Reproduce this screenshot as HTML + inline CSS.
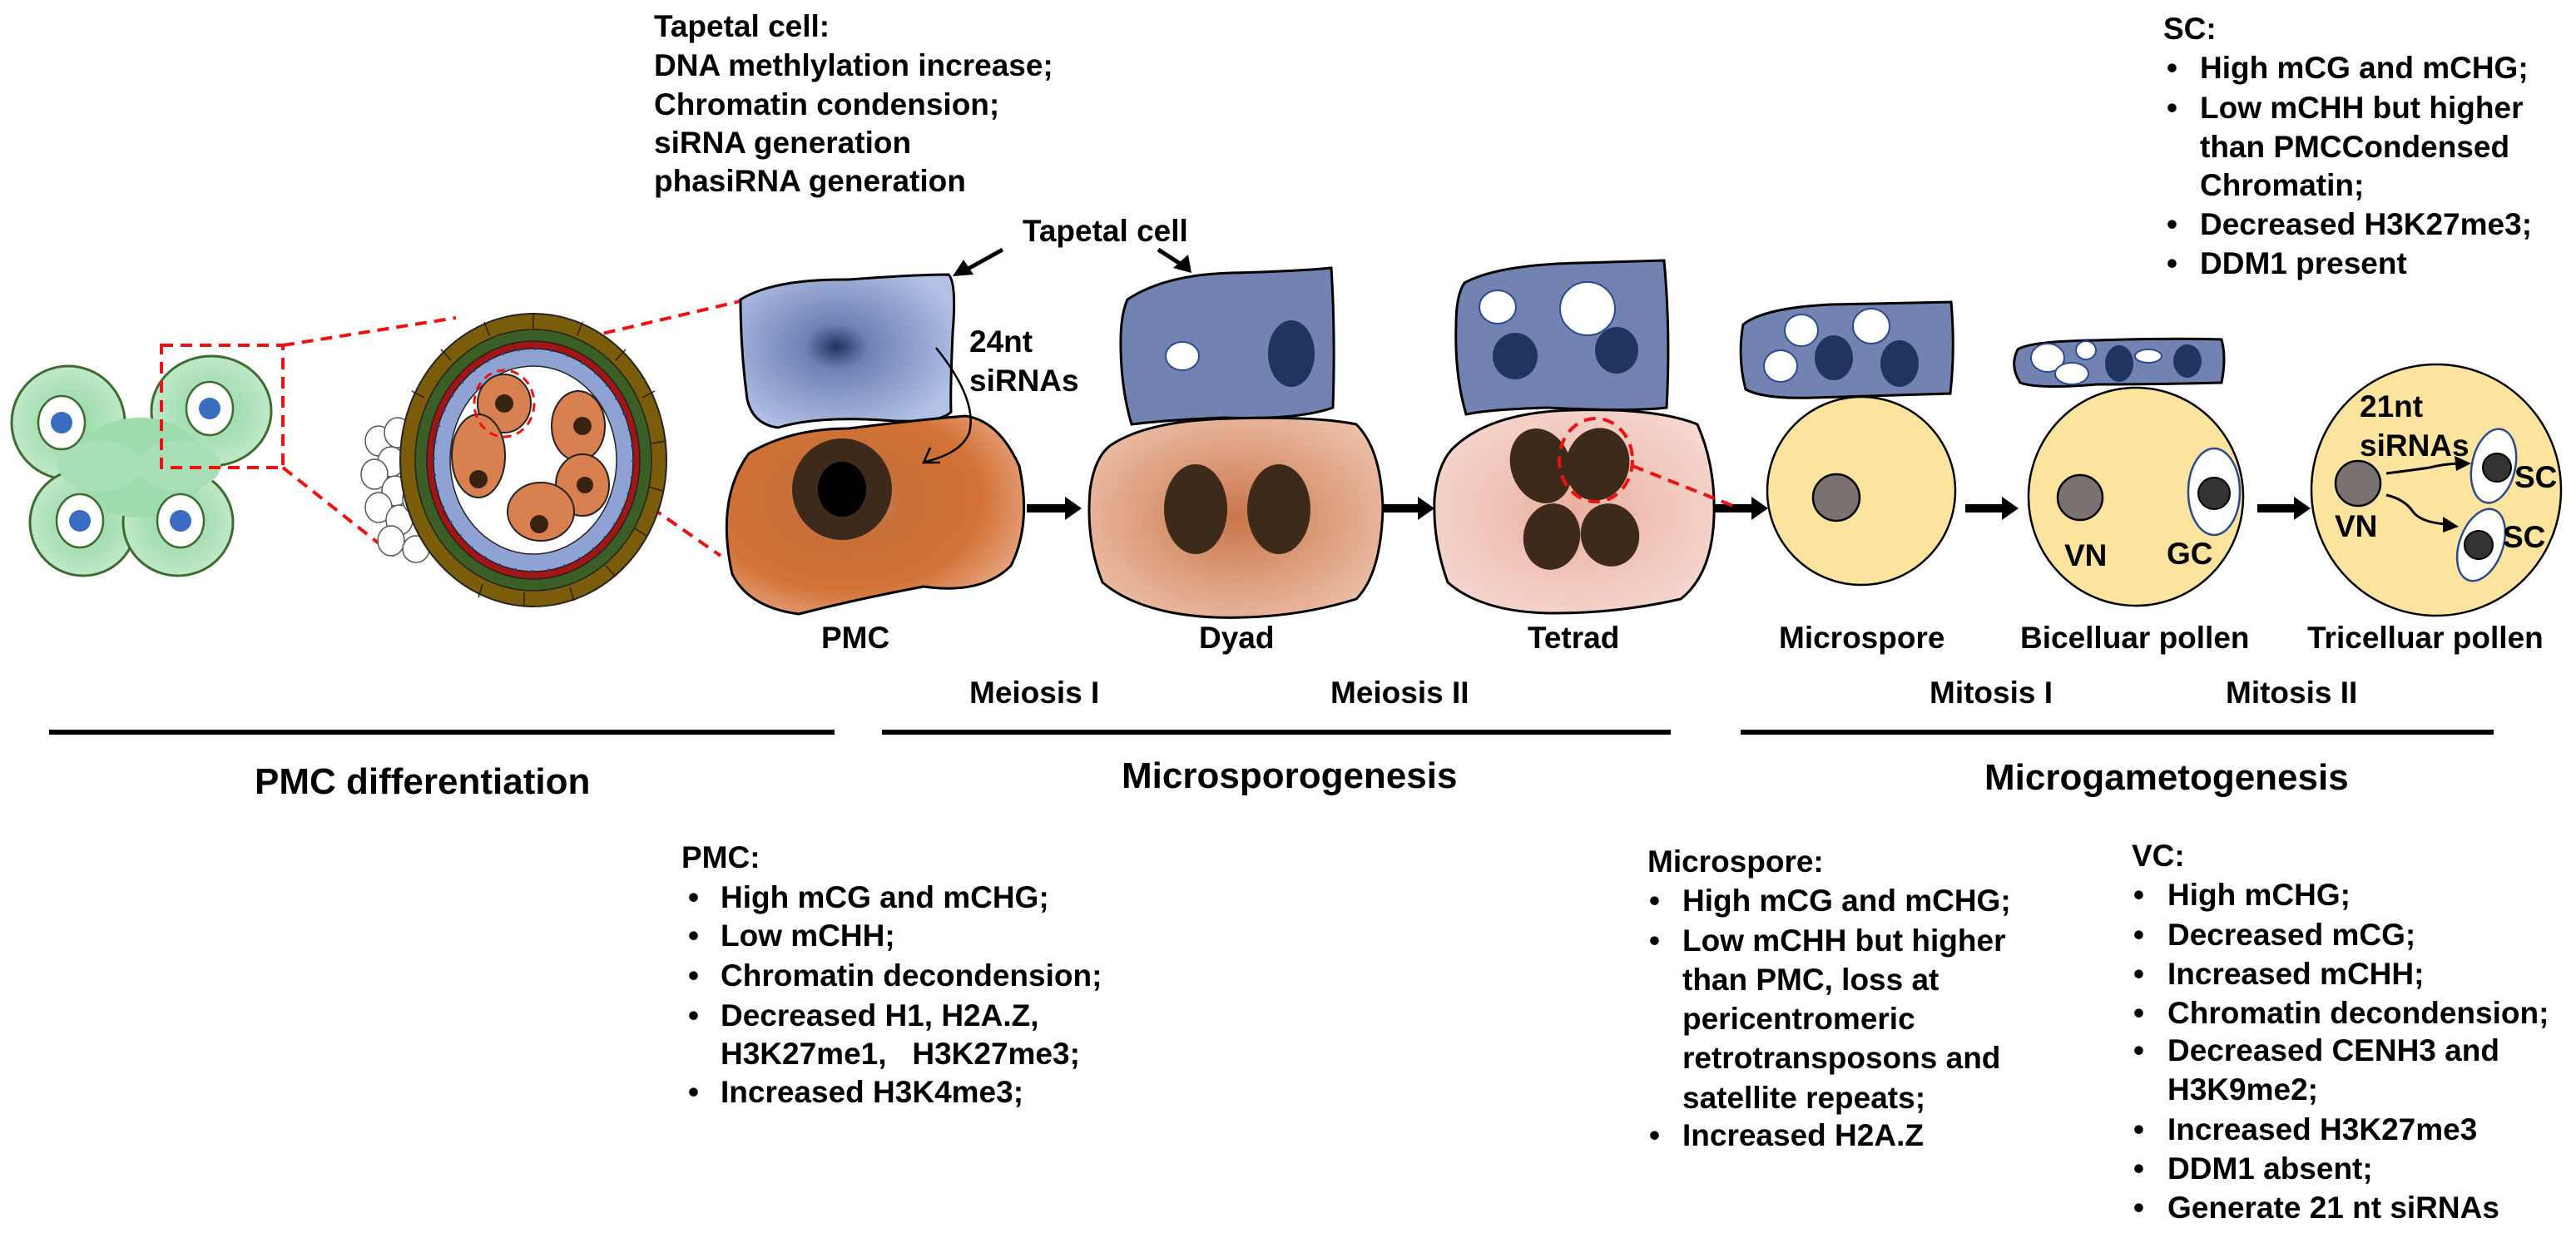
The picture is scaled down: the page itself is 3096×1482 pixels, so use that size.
<!DOCTYPE html>
<html><head><meta charset="utf-8"><style>
html,body{margin:0;padding:0;background:#fff;}
svg{display:block;}
text{font-family:"Liberation Sans",Arial,sans-serif;font-weight:bold;fill:#000;}
</style></head><body>
<svg width="3096" height="1482" viewBox="0 0 3096 1482" xmlns="http://www.w3.org/2000/svg">
<defs>
<radialGradient id="gclover" cx="0.5" cy="0.5" r="0.6"><stop offset="0" stop-color="#8fd6a0"/><stop offset="1" stop-color="#c8ecd0"/></radialGradient>
<radialGradient id="gtap1" cx="0.45" cy="0.47" r="0.6"><stop offset="0" stop-color="#1e3460"/><stop offset="0.25" stop-color="#6f82b6"/><stop offset="1" stop-color="#b3c1e6"/></radialGradient>
<radialGradient id="gpmc" cx="0.4" cy="0.42" r="0.65"><stop offset="0" stop-color="#b89080"/><stop offset="0.3" stop-color="#c87038"/><stop offset="0.7" stop-color="#d27236"/><stop offset="1" stop-color="#e6a27e"/></radialGradient>
<radialGradient id="gdyad" cx="0.5" cy="0.5" r="0.6"><stop offset="0" stop-color="#c8764a"/><stop offset="0.5" stop-color="#dc9c7a"/><stop offset="1" stop-color="#ecbfa8"/></radialGradient>
<radialGradient id="gtet" cx="0.5" cy="0.5" r="0.6"><stop offset="0" stop-color="#eab0a0"/><stop offset="1" stop-color="#f6d8d0"/></radialGradient>
</defs>

<text font-size="37"><tspan x="786" y="44">Tapetal cell:</tspan><tspan x="786" y="91">DNA methlylation increase;</tspan><tspan x="786" y="138">Chromatin condension;</tspan><tspan x="786" y="184">siRNA generation</tspan><tspan x="786" y="230">phasiRNA generation</tspan></text>

<text font-size="37"><tspan x="2600" y="47">SC:</tspan></text>
<g font-size="37">
<text x="2604" y="94">•</text><text x="2644" y="94">High mCG and mCHG;</text>
<text x="2604" y="142">•</text><text x="2644" y="142">Low mCHH but higher</text>
<text x="2644" y="189">than PMCCondensed</text>
<text x="2644" y="235">Chromatin;</text>
<text x="2604" y="282">•</text><text x="2644" y="282">Decreased H3K27me3;</text>
<text x="2604" y="329">•</text><text x="2644" y="329">DDM1 present</text>
</g>

<g stroke="#3f6a30" stroke-width="3" fill="url(#gclover)">
<ellipse cx="82" cy="508" rx="68" ry="68"/>
<ellipse cx="254" cy="494" rx="72" ry="66"/>
<ellipse cx="100" cy="628" rx="64" ry="64"/>
<ellipse cx="214" cy="628" rx="66" ry="64"/>
</g>
<ellipse cx="168" cy="562" rx="80" ry="60" fill="#9edcae"/>
<ellipse cx="120" cy="560" rx="50" ry="30" fill="#a8dfb6"/>
<ellipse cx="215" cy="560" rx="50" ry="30" fill="#a8dfb6"/>
<g stroke="#3f6a30" stroke-width="2.5" fill="#fff">
<ellipse cx="74" cy="508" rx="28" ry="32"/><ellipse cx="252" cy="491" rx="28" ry="32"/>
<ellipse cx="96" cy="626" rx="28" ry="32"/><ellipse cx="217" cy="626" rx="28" ry="32"/>
</g>
<g fill="#3a6cc0"><circle cx="74" cy="508" r="13"/><circle cx="252" cy="491" r="13"/><circle cx="96" cy="626" r="13"/><circle cx="217" cy="626" r="13"/></g>

<g stroke="#ee1111" stroke-width="4" stroke-dasharray="14 9" fill="none">
<rect x="194" y="415" width="146" height="147"/>
<line x1="340" y1="415" x2="548" y2="382"/>
<line x1="340" y1="562" x2="474" y2="668"/>
<line x1="681" y1="411" x2="890" y2="362"/>
<line x1="632" y1="505" x2="866" y2="668"/>
</g>

<g>
<g stroke="#555" stroke-width="1.5" fill="#fff">
<ellipse cx="455" cy="530" rx="16" ry="18"/><ellipse cx="478" cy="520" rx="16" ry="18"/><ellipse cx="470" cy="555" rx="16" ry="18"/><ellipse cx="450" cy="570" rx="16" ry="18"/>
<ellipse cx="475" cy="590" rx="16" ry="18"/><ellipse cx="455" cy="610" rx="16" ry="18"/><ellipse cx="480" cy="625" rx="16" ry="18"/><ellipse cx="470" cy="650" rx="16" ry="18"/><ellipse cx="500" cy="660" rx="16" ry="16"/><ellipse cx="500" cy="540" rx="16" ry="18"/><ellipse cx="500" cy="600" rx="16" ry="18"/>
</g>
<ellipse cx="641" cy="553" rx="160" ry="176" fill="#7a5c0a" stroke="#222" stroke-width="2"/>
<g stroke="#2a2000" stroke-width="1.5">
<line x1="641" y1="377" x2="641" y2="395"/><line x1="700" y1="387" x2="694" y2="403"/><line x1="752" y1="420" x2="740" y2="433"/><line x1="787" y1="470" x2="772" y2="478"/><line x1="800" y1="530" x2="783" y2="533"/><line x1="796" y1="590" x2="779" y2="585"/><line x1="778" y1="645" x2="763" y2="635"/><line x1="740" y1="693" x2="728" y2="680"/><line x1="690" y1="722" x2="685" y2="706"/><line x1="630" y1="729" x2="630" y2="712"/><line x1="575" y1="718" x2="580" y2="702"/><line x1="582" y1="387" x2="588" y2="403"/><line x1="530" y1="420" x2="542" y2="433"/><line x1="495" y1="470" x2="510" y2="478"/>
</g>
<ellipse cx="641" cy="553" rx="142" ry="157" fill="#3b5e25" stroke="#222" stroke-width="1.5"/>
<ellipse cx="641" cy="553" rx="128" ry="143" fill="#a31414" stroke="#222" stroke-width="1.5"/>
<ellipse cx="641" cy="553" rx="120" ry="134" fill="#8fa2d4" stroke="#222" stroke-width="1.5"/>
<ellipse cx="641" cy="553" rx="120" ry="134" fill="none" stroke="#2a4080" stroke-width="4" stroke-dasharray="2 18"/>
<ellipse cx="641" cy="553" rx="100" ry="113" fill="#fff" stroke="#222" stroke-width="1.5"/>
<g fill="#d98050" stroke="#222" stroke-width="2">
<ellipse cx="606" cy="485" rx="32" ry="35"/><ellipse cx="695" cy="512" rx="32" ry="42"/><ellipse cx="575" cy="548" rx="32" ry="50"/><ellipse cx="700" cy="583" rx="32" ry="37"/><ellipse cx="650" cy="615" rx="40" ry="35"/>
</g>
<g fill="#3a2210"><circle cx="606" cy="485" r="11"/><circle cx="700" cy="512" r="11"/><circle cx="575" cy="576" r="11"/><circle cx="703" cy="583" r="10"/><circle cx="648" cy="630" r="11"/></g>
<ellipse cx="606" cy="485" rx="36" ry="40" fill="none" stroke="#ee1111" stroke-width="3" stroke-dasharray="10 7"/>
</g>

<path d="M890 360 Q930 335 1020 336 Q1100 330 1140 330 Q1150 340 1145 400 Q1142 470 1143 495 Q1130 510 1060 505 Q980 500 935 514 Q905 510 898 480 Q890 420 890 360Z" fill="url(#gtap1)" stroke="#000" stroke-width="3"/>
<path d="M900 545 Q950 515 1020 515 Q1100 505 1160 500 Q1200 505 1225 560 Q1240 630 1215 680 Q1180 715 1110 705 Q1030 720 960 738 Q900 730 880 690 Q860 600 900 545Z" fill="url(#gpmc)" stroke="#000" stroke-width="3"/>
<ellipse cx="1012" cy="588" rx="60" ry="61" fill="#3d2a1a"/>
<ellipse cx="1012" cy="588" rx="29" ry="33" fill="#000"/>
<text font-size="37" x="1229" y="290">Tapetal cell</text>
<g stroke="#000" stroke-width="5" fill="none"><line x1="1205" y1="300" x2="1160" y2="325"/><line x1="1392" y1="300" x2="1420" y2="318"/></g>
<polygon points="1145,332 1158,312 1170,330" fill="#000"/>
<polygon points="1432,328 1410,322 1428,306" fill="#000"/>
<text font-size="37"><tspan x="1165" y="423">24nt</tspan><tspan x="1165" y="470">siRNAs</tspan></text>
<path d="M1125 418 Q1175 480 1165 520 Q1155 545 1112 555" fill="none" stroke="#000" stroke-width="2.5"/>
<polyline points="1118,538 1110,556 1130,556" fill="none" stroke="#000" stroke-width="2.5"/>

<g fill="#000">
<rect x="1234" y="606" width="48" height="10"/><polygon points="1280,597 1300,611 1280,625"/>
<rect x="1661" y="606" width="45" height="10"/><polygon points="1704,597 1724,611 1704,625"/>
<rect x="2061" y="606" width="46" height="10"/><polygon points="2105,597 2125,611 2105,625"/>
<rect x="2362" y="606" width="46" height="10"/><polygon points="2406,597 2426,611 2406,625"/>
<rect x="2713" y="606" width="46" height="10"/><polygon points="2757,597 2777,611 2757,625"/>
</g>

<path d="M1355 360 Q1400 330 1480 328 Q1560 326 1600 322 Q1605 400 1602 490 Q1560 505 1470 502 Q1400 505 1360 510 Q1348 470 1347 420 Q1346 380 1355 360Z" fill="#7283b2" stroke="#000" stroke-width="3"/>
<ellipse cx="1421" cy="428" rx="20" ry="17" fill="#fff" stroke="#2a4a90" stroke-width="2"/>
<ellipse cx="1552" cy="425" rx="28" ry="40" fill="#1f3560"/>
<path d="M1335 535 Q1380 505 1480 503 Q1580 500 1630 510 Q1660 540 1662 610 Q1660 690 1630 720 Q1550 745 1460 742 Q1370 738 1325 700 Q1305 650 1310 590 Q1315 550 1335 535Z" fill="url(#gdyad)" stroke="#000" stroke-width="3"/>
<ellipse cx="1437" cy="612" rx="38" ry="54" fill="#3d2a1a"/>
<ellipse cx="1537" cy="612" rx="38" ry="54" fill="#3d2a1a"/>

<path d="M1760 340 Q1800 318 1900 316 Q1970 314 2000 313 Q2008 400 2003 490 Q1960 495 1860 490 Q1790 492 1762 498 Q1748 450 1750 390 Q1750 355 1760 340Z" fill="#7283b2" stroke="#000" stroke-width="3"/>
<ellipse cx="1800" cy="369" rx="22" ry="20" fill="#fff" stroke="#2a4a90" stroke-width="2"/>
<ellipse cx="1908" cy="371" rx="33" ry="32" fill="#fff" stroke="#2a4a90" stroke-width="2"/>
<ellipse cx="1821" cy="428" rx="27" ry="28" fill="#1f3560"/>
<ellipse cx="1943" cy="421" rx="26" ry="28" fill="#1f3560"/>
<path d="M1745 540 Q1790 495 1890 493 Q1990 490 2040 510 Q2062 560 2060 620 Q2058 690 2020 720 Q1940 738 1860 737 Q1780 735 1740 700 Q1722 650 1724 600 Q1727 560 1745 540Z" fill="url(#gtet)" stroke="#000" stroke-width="3"/>
<g fill="#3d2a1a">
<ellipse cx="1852" cy="560" rx="36" ry="46" transform="rotate(-20 1852 560)"/>
<ellipse cx="1920" cy="558" rx="38" ry="44" transform="rotate(15 1920 558)"/>
<ellipse cx="1865" cy="645" rx="34" ry="40" transform="rotate(10 1865 645)"/>
<ellipse cx="1935" cy="643" rx="35" ry="38" transform="rotate(-15 1935 643)"/>
</g>
<g stroke="#ee1111" stroke-width="4" stroke-dasharray="14 9" fill="none">
<ellipse cx="1918" cy="553" rx="44" ry="50"/>
<line x1="1962" y1="560" x2="2088" y2="610"/>
</g>

<path d="M2095 390 Q2120 370 2200 366 Q2290 364 2345 363 Q2350 420 2344 473 Q2280 475 2180 478 Q2120 480 2098 468 Q2088 430 2095 390Z" fill="#7283b2" stroke="#000" stroke-width="3"/>
<ellipse cx="2165" cy="397" rx="20" ry="19" fill="#fff" stroke="#2a4a90" stroke-width="2"/>
<ellipse cx="2249" cy="392" rx="22" ry="21" fill="#fff" stroke="#2a4a90" stroke-width="2"/>
<ellipse cx="2140" cy="440" rx="20" ry="19" fill="#fff" stroke="#2a4a90" stroke-width="2"/>
<ellipse cx="2204" cy="430" rx="23" ry="27" fill="#1f3560"/>
<ellipse cx="2283" cy="437" rx="23" ry="28" fill="#1f3560"/>
<ellipse cx="2237" cy="590" rx="113" ry="113" fill="#fde49e" stroke="#000" stroke-width="2.5"/>
<circle cx="2207" cy="598" r="28" fill="#7a7270" stroke="#000" stroke-width="2.5"/>

<path d="M2425 420 Q2440 410 2520 409 Q2610 406 2670 408 Q2676 430 2670 460 Q2600 462 2520 462 Q2450 468 2428 460 Q2415 440 2425 420Z" fill="#7283b2" stroke="#000" stroke-width="3"/>
<ellipse cx="2461" cy="430" rx="20" ry="17" fill="#fff" stroke="#2a4a90" stroke-width="2"/>
<ellipse cx="2507" cy="421" rx="12" ry="11" fill="#fff" stroke="#2a4a90" stroke-width="2"/>
<ellipse cx="2490" cy="449" rx="20" ry="13" fill="#fff" stroke="#2a4a90" stroke-width="2"/>
<ellipse cx="2582" cy="428" rx="16" ry="8" fill="#fff" stroke="#2a4a90" stroke-width="2"/>
<ellipse cx="2547" cy="437" rx="17" ry="22" fill="#1f3560"/>
<ellipse cx="2629" cy="434" rx="17" ry="20" fill="#1f3560"/>
<ellipse cx="2567" cy="597" rx="129" ry="131" fill="#fde49e" stroke="#000" stroke-width="2.5"/>
<circle cx="2500" cy="598" r="27" fill="#7a7270" stroke="#000" stroke-width="2.5"/>
<ellipse cx="2661" cy="591" rx="31" ry="52" fill="#fff" stroke="#2a4a90" stroke-width="2.5"/>
<circle cx="2661" cy="593" r="19" fill="#333" stroke="#000" stroke-width="2"/>
<text font-size="37" x="2481" y="680">VN</text>
<text font-size="37" x="2604" y="678">GC</text>

<ellipse cx="2928" cy="589" rx="150" ry="151" fill="#fde49e" stroke="#000" stroke-width="2.5"/>
<circle cx="2834" cy="581" r="27" fill="#7a7270" stroke="#000" stroke-width="2.5"/>
<ellipse cx="2997" cy="560" rx="26" ry="45" fill="#fff" stroke="#2a4a90" stroke-width="2.5" transform="rotate(12 2997 560)"/>
<circle cx="3001" cy="562" r="17" fill="#333" stroke="#000" stroke-width="2"/>
<ellipse cx="2982" cy="655" rx="26" ry="45" fill="#fff" stroke="#2a4a90" stroke-width="2.5" transform="rotate(20 2982 655)"/>
<circle cx="2979" cy="655" r="17" fill="#333" stroke="#000" stroke-width="2"/>
<text font-size="37"><tspan x="2836" y="501">21nt</tspan><tspan x="2836" y="548">siRNAs</tspan></text>
<text font-size="37" x="3022" y="586">SC</text>
<text font-size="37" x="3008" y="658">SC</text>
<text font-size="37" x="2806" y="645">VN</text>
<g stroke="#000" stroke-width="3" fill="none">
<path d="M2868 569 Q2900 565 2920 562 Q2935 558 2955 557"/>
<path d="M2868 595 Q2890 600 2900 615 Q2910 628 2940 630"/>
</g>
<polygon points="2970,557 2950,548 2952,566" fill="#000"/>
<polygon points="2955,633 2936,621 2936,640" fill="#000"/>

<g font-size="37">
<text x="987" y="779">PMC</text>
<text x="1441" y="779">Dyad</text>
<text x="1836" y="779">Tetrad</text>
<text x="2138" y="779">Microspore</text>
<text x="2428" y="779">Bicelluar pollen</text>
<text x="2773" y="779">Tricelluar pollen</text>
<text x="1165" y="845">Meiosis I</text>
<text x="1599" y="845">Meiosis II</text>
<text x="2319" y="845">Mitosis I</text>
<text x="2675" y="845">Mitosis II</text>
</g>
<g fill="#000">
<rect x="59" y="877" width="944" height="6"/>
<rect x="1060" y="877" width="948" height="6"/>
<rect x="2092" y="877" width="905" height="6"/>
</g>
<g font-size="44">
<text x="306" y="954">PMC differentiation</text>
<text x="1348" y="947">Microsporogenesis</text>
<text x="2385" y="949">Microgametogenesis</text>
</g>

<g font-size="37">
<text x="819" y="1043">PMC:</text>
<text x="827" y="1091">•</text><text x="866" y="1091">High mCG and mCHG;</text>
<text x="827" y="1137">•</text><text x="866" y="1137">Low mCHH;</text>
<text x="827" y="1185">•</text><text x="866" y="1185">Chromatin decondension;</text>
<text x="827" y="1233">•</text><text x="866" y="1233">Decreased H1, H2A.Z,</text>
<text x="866" y="1279" xml:space="preserve">H3K27me1,   H3K27me3;</text>
<text x="827" y="1325">•</text><text x="866" y="1325">Increased H3K4me3;</text>
</g>
<g font-size="37">
<text x="1980" y="1048">Microspore:</text>
<text x="1982" y="1095">•</text><text x="2022" y="1095">High mCG and mCHG;</text>
<text x="1982" y="1143">•</text><text x="2022" y="1143">Low mCHH but higher</text>
<text x="2022" y="1190">than PMC, loss at</text>
<text x="2022" y="1237">pericentromeric</text>
<text x="2022" y="1284">retrotransposons and</text>
<text x="2022" y="1332">satellite repeats;</text>
<text x="1982" y="1377">•</text><text x="2022" y="1377">Increased H2A.Z</text>
</g>
<g font-size="37">
<text x="2562" y="1041">VC:</text>
<text x="2564" y="1088">•</text><text x="2605" y="1088">High mCHG;</text>
<text x="2564" y="1136">•</text><text x="2605" y="1136">Decreased mCG;</text>
<text x="2564" y="1183">•</text><text x="2605" y="1183">Increased mCHH;</text>
<text x="2564" y="1230">•</text><text x="2605" y="1230">Chromatin decondension;</text>
<text x="2564" y="1275">•</text><text x="2605" y="1275">Decreased CENH3 and</text>
<text x="2605" y="1322">H3K9me2;</text>
<text x="2564" y="1370">•</text><text x="2605" y="1370">Increased H3K27me3</text>
<text x="2564" y="1417">•</text><text x="2605" y="1417">DDM1 absent;</text>
<text x="2564" y="1464">•</text><text x="2605" y="1464">Generate 21 nt siRNAs</text>
</g>
</svg>
</body></html>
